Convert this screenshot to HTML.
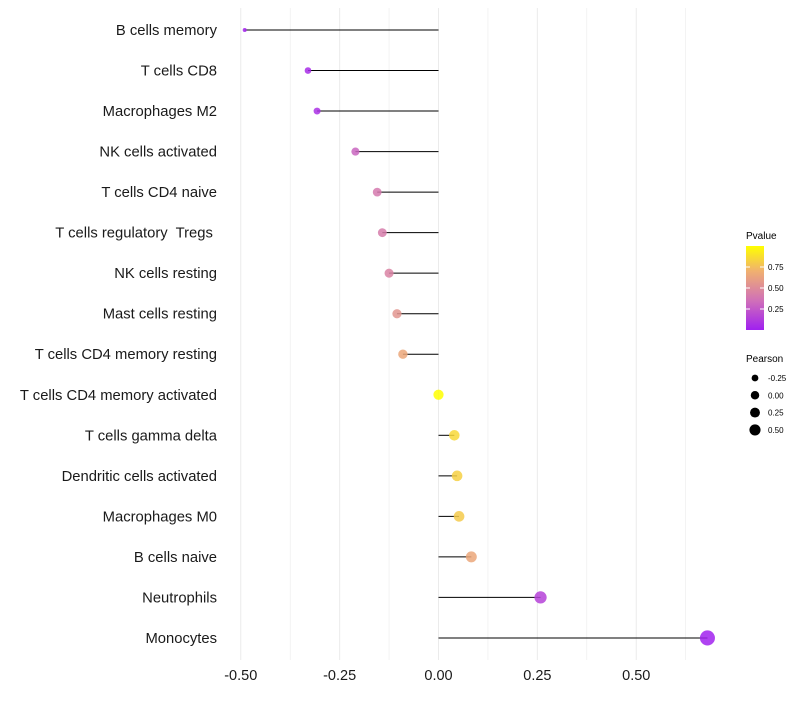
<!DOCTYPE html>
<html><head><meta charset="utf-8"><style>
body{margin:0;background:#fff;font-family:"Liberation Sans",sans-serif;}
svg text{font-family:"Liberation Sans",sans-serif;}
</style></head><body>
<svg id="c" width="800" height="700">
<defs><linearGradient id="pg" x1="0" y1="1" x2="0" y2="0">
<stop offset="0" stop-color="#a020f0"/><stop offset="0.35" stop-color="#d070b8"/><stop offset="0.7" stop-color="#f0b070"/><stop offset="1" stop-color="#ffff00"/></linearGradient></defs>
</svg>
<script>
const categories=["B cells memory","T cells CD8","Macrophages M2","NK cells activated","T cells CD4 naive","T cells regulatory  Tregs ","NK cells resting","Mast cells resting","T cells CD4 memory resting","T cells CD4 memory activated","T cells gamma delta","Dendritic cells activated","Macrophages M0","B cells naive","Neutrophils","Monocytes"];
const pearson=[-0.49,-0.33,-0.307,-0.21,-0.155,-0.142,-0.125,-0.105,-0.09,0.0,0.04,0.047,0.052,0.083,0.258,0.68];
const pvalues=[0.02,0.05,0.07,0.3,0.4,0.42,0.45,0.55,0.65,1.0,0.85,0.82,0.8,0.65,0.15,0.01];
const xTicks=[-0.5,-0.25,0,0.25,0.5];
const xTickLabels=["-0.50","-0.25","0.00","0.25","0.50"];
const pTicks=[0.25,0.5,0.75];
const sizeLegend=[-0.25,0,0.25,0.5];
const svg=document.getElementById('c');const NS="http://www.w3.org/2000/svg";
function mk(t,a,p){const e=document.createElementNS(NS,t);for(const k in a)e.setAttribute(k,a[k]);(p||svg).appendChild(e);return e;}
const x=v=>438.5+v*395.5;
const y=i=>30+i*40.53;
const r=v=>Math.sqrt(Math.max(4,26+45*v));
const rl=v=>Math.sqrt(Math.max(4,18+26*v));
const stops=[[0,[160,32,240]],[0.35,[208,112,184]],[0.7,[240,176,112]],[1,[255,255,0]]];
function col(p){for(let i=1;i<stops.length;i++){if(p<=stops[i][0]){const a=stops[i-1],b=stops[i],t=(p-a[0])/(b[0]-a[0]);const c=a[1].map((v,j)=>Math.round(v+(b[1][j]-v)*t));return `rgb(${c})`;}}return 'rgb(255,255,0)';}
for(let v=-0.5;v<=0.63;v+=0.125){const g=mk('line',{x1:x(v),x2:x(v),y1:8,y2:660,stroke:'#ebebeb','stroke-width':Math.abs(v*4-Math.round(v*4))<1e-6?1:0.6});

}
xTicks.forEach((v,i)=>{const t=mk('text',{x:x(v),y:680,'text-anchor':'middle','font-size':14.5,fill:'#1a1a1a'});t.textContent=xTickLabels[i];

});
categories.forEach((c,i)=>{
const t=mk('text',{x:217,y:y(i)+5,'text-anchor':'end','font-size':14.8,fill:'#1a1a1a'});t.textContent=c;t.style.whiteSpace='pre';


const l=mk('line',{x1:x(0),x2:x(pearson[i]),y1:y(i),y2:y(i),stroke:'#000','stroke-width':1});


const d=mk('circle',{cx:x(pearson[i]),cy:y(i),r:r(pearson[i]),fill:col(pvalues[i]),'fill-opacity':0.85});


});
let t=mk('text',{x:746,y:239,'font-size':10});t.textContent='Pvalue';


const bar=mk('rect',{x:746,y:246,width:18,height:84,fill:'url(#pg)'});


pTicks.forEach(p=>{const yy=330-p*84;mk('line',{x1:746,x2:750,y1:yy,y2:yy,stroke:'#fff'});mk('line',{x1:760,x2:764,y1:yy,y2:yy,stroke:'#fff'});
const tt=mk('text',{x:768,y:yy+3,'font-size':8});tt.textContent=p.toFixed(2);

});
t=mk('text',{x:746,y:362,'font-size':10});t.textContent='Pearson';


sizeLegend.forEach((v,i)=>{const yy=378+i*17.3;const c=mk('circle',{cx:755,cy:yy,r:rl(v),fill:'#000'});


const tt=mk('text',{x:768,y:yy+3,'font-size':8});tt.textContent=v.toFixed(2);

});
</script>
</body></html>
